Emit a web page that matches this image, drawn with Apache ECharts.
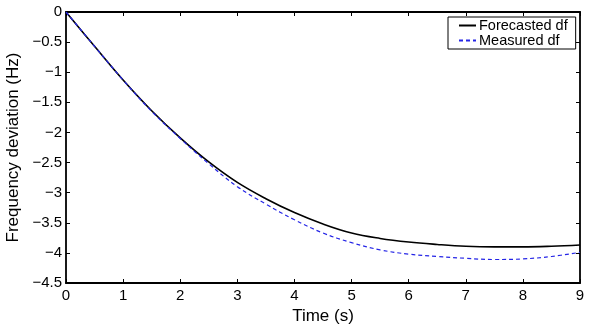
<!DOCTYPE html>
<html>
<head>
<meta charset="utf-8">
<script src="https://cdn.jsdelivr.net/npm/echarts@6/dist/echarts.min.js"></script>
<style>
  html, body { margin: 0; padding: 0; background: #fff; }
  #chart { width: 592px; height: 328px; }
</style>
</head>
<body>
<div id="chart"></div>
<script>
// time in seconds
const timeS = [0, 0.5, 1, 1.5, 2, 2.5, 3, 3.5, 4, 4.5, 5, 5.5, 6, 6.5, 7, 7.5, 8, 8.5, 9];
// frequency deviation (Hz)
const forecastedDf = [0, -0.57, -1.13, -1.64, -2.09, -2.49, -2.83, -3.1, -3.33, -3.52, -3.67, -3.76, -3.82, -3.86, -3.89, -3.9, -3.9, -3.89, -3.87];
const measuredDf = [0, -0.57, -1.13, -1.65, -2.1, -2.52, -2.9, -3.19, -3.45, -3.67, -3.83, -3.95, -4.02, -4.06, -4.09, -4.11, -4.1, -4.06, -3.99];
const xTicks = [0, 1, 2, 3, 4, 5, 6, 7, 8, 9];
const yTicks = [0, -0.5, -1, -1.5, -2, -2.5, -3, -3.5, -4, -4.5];

const font = 'Liberation Sans, Arial, Helvetica, sans-serif';
const fmtNum = v => (v < 0 ? '\u2212' + Math.abs(v) : String(v));

const chart = echarts.init(document.getElementById('chart'));

const axisLine = { show: true, onZero: false, lineStyle: { color: '#000', width: 1.8 } };
const tick = { show: true, inside: true, length: 4, lineStyle: { color: '#000', width: 1 } };

const option = {
    backgroundColor: '#fff',
    animation: false,
    grid: { left: 66, right: 12, top: 12, bottom: 45, containLabel: false, outerBoundsMode: 'none' },
    legend: {
        left: 448,
        top: 17,
        orient: 'vertical',
        itemWidth: 17,
        itemHeight: 10,
        itemGap: 0,
        padding: [1, 8, 1, 10],
        borderColor: '#000',
        borderWidth: 1,
        backgroundColor: '#fff',
        itemStyle: { opacity: 0 },
        textStyle: { fontFamily: font, fontSize: 14.5, lineHeight: 14, color: '#000', padding: [0, 0, 0, -2] },
        data: ['Forecasted df', 'Measured df']
    },
    xAxis: [{
        type: 'value',
        min: xTicks[0],
        max: xTicks[xTicks.length - 1],
        interval: 1,
        axisLine: axisLine,
        axisTick: tick,
        splitLine: { show: false },
        axisLabel: { color: '#000', fontFamily: font, fontSize: 15, margin: 5, formatter: fmtNum },
        name: 'Time (s)',
        nameLocation: 'middle',
        nameGap: 23,
        nameTextStyle: { color: '#000', fontFamily: font, fontSize: 17 }
    }, {
        type: 'value',
        position: 'top',
        min: xTicks[0],
        max: xTicks[xTicks.length - 1],
        interval: 1,
        axisLine: axisLine,
        axisTick: tick,
        splitLine: { show: false },
        axisLabel: { show: false }
    }],
    yAxis: [{
        type: 'value',
        min: yTicks[yTicks.length - 1],
        max: yTicks[0],
        interval: 0.5,
        axisLine: axisLine,
        axisTick: tick,
        splitLine: { show: false },
        axisLabel: { color: '#000', fontFamily: font, fontSize: 15, margin: 4, formatter: fmtNum },
        name: 'Frequency deviation (Hz)',
        nameLocation: 'middle',
        nameGap: 43,
        nameTextStyle: { color: '#000', fontFamily: font, fontSize: 17 }
    }, {
        type: 'value',
        position: 'right',
        min: yTicks[yTicks.length - 1],
        max: yTicks[0],
        interval: 0.5,
        axisLine: axisLine,
        axisTick: tick,
        splitLine: { show: false },
        axisLabel: { show: false }
    }],
    series: [{
        name: 'Forecasted df',
        type: 'line',
        smooth: 0.4,
        symbol: 'none',
        color: '#000',
        lineStyle: { color: '#000', width: 1.6 },
        data: timeS.map((t, i) => [t, forecastedDf[i]])
    }, {
        name: 'Measured df',
        type: 'line',
        smooth: 0.4,
        symbol: 'none',
        color: '#2424e6',
        lineStyle: { color: '#2424e6', width: 1.2, type: [4, 3] },
        data: timeS.map((t, i) => [t, measuredDf[i]])
    }]
};

chart.setOption(option);
</script>
</body>
</html>
